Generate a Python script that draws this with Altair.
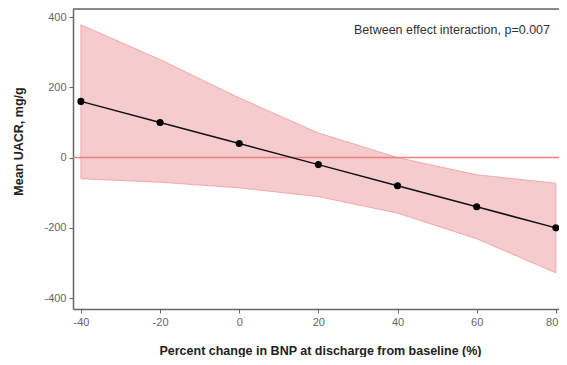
import altair as alt
import pandas as pd

# Data
pct_change = [-40, -20, 0, 20, 40, 60, 80]
mean_uacr = [160, 100, 40, -20, -80, -140, -200]
upper_ci = [378, 279, 170, 70, 0, -49, -73]
lower_ci = [-60, -70, -86, -111, -158, -231, -328]
zero_line = [0]
annotation = ["Between effect interaction, p=0.007"]

df = pd.DataFrame({"x": pct_change, "y": mean_uacr, "lo": lower_ci, "hi": upper_ci})

W, H = 486, 300
FONT = "Liberation Sans"

xscale = alt.Scale(domain=[-42, 80.8], nice=False, zero=False)
yscale = alt.Scale(domain=[-431, 423], nice=False, zero=False)

xaxis = alt.Axis(
    values=pct_change, title="Percent change in BNP at discharge from baseline (%)",
    grid=False, tickSize=4, labelPadding=3, titleFontWeight="bold", titleFontSize=12.5,
    titleX=247, titleY=41, titleBaseline="middle", titleColor="#222",
    labelColor="#666", labelFontSize=11, domainColor="#666", domainWidth=1.5,
    tickColor="#666", labelFlush=False, labelExpr="toString(datum.value)",
    labelAlign={"condition": {"test": "datum.value == 80", "value": "right"}, "value": "center"},
    labelOffset={"condition": {"test": "datum.value == 80", "value": 2}, "value": 0},
)
yaxis = alt.Axis(
    values=[-400, -200, 0, 200, 400], title="Mean UACR, mg/g",
    grid=False, tickSize=4, labelPadding=3, titleFontWeight="bold", titleFontSize=12.5,
    titleX=-55, titleY=132, titleBaseline="middle", titleColor="#222",
    labelColor="#666", labelFontSize=11, domainColor="#666", domainWidth=1.5,
    tickColor="#666", labelExpr="toString(datum.value)",
)

band = alt.Chart(df).mark_area(
    color="#f5c2c6", opacity=0.85, stroke="#ee9aa0", strokeWidth=1
).encode(
    x=alt.X("x:Q", scale=xscale, axis=xaxis),
    y=alt.Y("hi:Q", scale=yscale, axis=yaxis),
    y2="lo:Q",
)

zero = alt.Chart(pd.DataFrame({"z": zero_line})).mark_rule(
    color="#ee7f80", strokeWidth=1.5
).encode(
    y=alt.Y("z:Q", scale=yscale),
    x=alt.value(0), x2=alt.value(W),
)

line = alt.Chart(df).mark_line(color="#111", strokeWidth=1.5).encode(
    x=alt.X("x:Q", scale=xscale), y=alt.Y("y:Q", scale=yscale)
)
pts = alt.Chart(df).mark_circle(color="#000", size=50, opacity=1).encode(
    x=alt.X("x:Q", scale=xscale), y=alt.Y("y:Q", scale=yscale)
)

top_border = alt.Chart(pd.DataFrame({"z": zero_line})).mark_rule(
    color="#666", strokeWidth=1.5
).encode(x=alt.value(0), x2=alt.value(W), y=alt.value(0))

text = alt.Chart(pd.DataFrame({"t": annotation})).mark_text(
    align="right", baseline="middle", fontSize=12.5, color="#333", font=FONT
).encode(text="t:N", x=alt.value(477), y=alt.value(21))

chart = alt.layer(band, zero, line, pts, top_border, text).properties(
    width=W, height=H,
    padding={"left": 65, "top": 1, "right": 0, "bottom": 48},
    autosize=alt.AutoSizeParams(type="none"),
).configure_view(stroke=None).configure(font=FONT, background="white")

chart.save("out.html", embed_options={"renderer": "svg", "actions": False})
